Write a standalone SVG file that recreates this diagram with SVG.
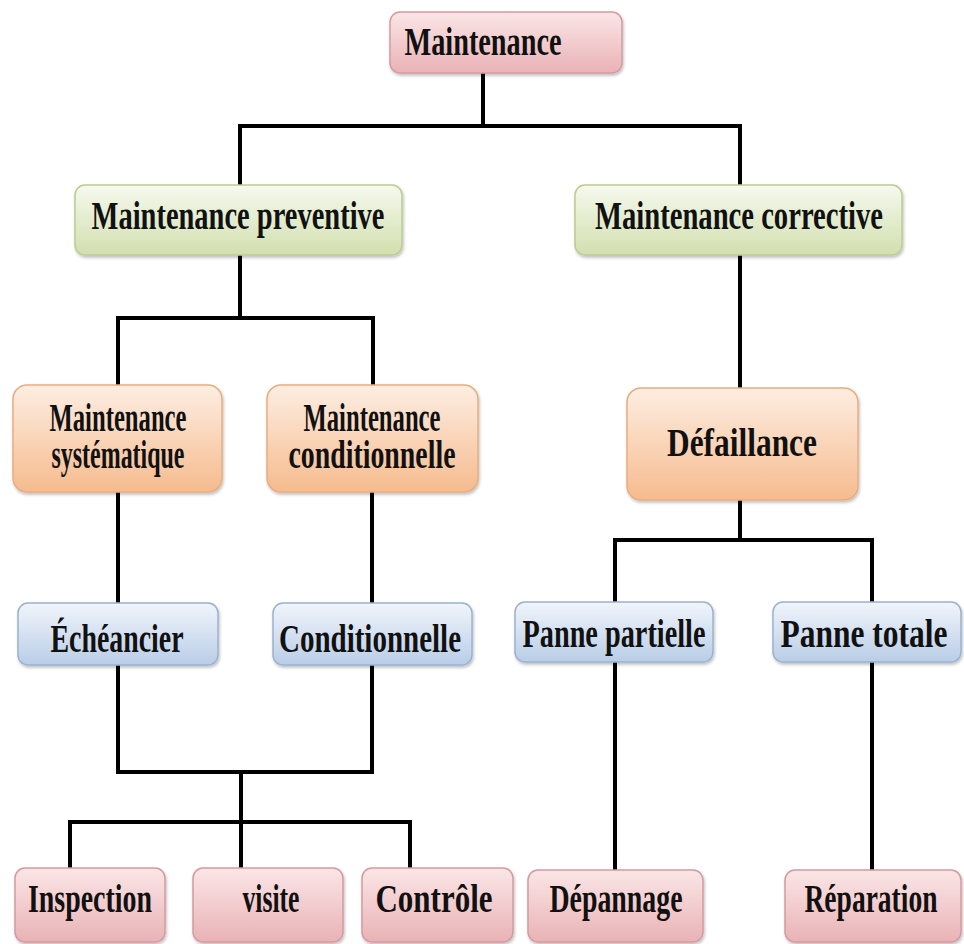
<svg xmlns="http://www.w3.org/2000/svg" width="964" height="944" viewBox="0 0 964 944">
<defs>
<linearGradient id="gPink" x1="0" y1="0" x2="0" y2="1"><stop offset="0" stop-color="#fbe6e6"/><stop offset="1" stop-color="#e9b2b6"/></linearGradient>
<linearGradient id="gGreen" x1="0" y1="0" x2="0" y2="1"><stop offset="0" stop-color="#f6f9ee"/><stop offset="1" stop-color="#d2dfae"/></linearGradient>
<linearGradient id="gOrange" x1="0" y1="0" x2="0" y2="1"><stop offset="0" stop-color="#fdeee2"/><stop offset="1" stop-color="#f6bb8e"/></linearGradient>
<linearGradient id="gBlue" x1="0" y1="0" x2="0" y2="1"><stop offset="0" stop-color="#f1f5fb"/><stop offset="1" stop-color="#b9cde7"/></linearGradient>
<filter id="sh" x="-10%" y="-10%" width="120%" height="130%"><feDropShadow dx="1" dy="2" stdDeviation="1.5" flood-color="#000" flood-opacity="0.25"/></filter>
</defs>
<style>
.box{filter:url(#sh);stroke-width:1.5}
.pink{fill:url(#gPink);stroke:#d49aa0}
.green{fill:url(#gGreen);stroke:#bccb90}
.orange{fill:url(#gOrange);stroke:#e7ad80}
.blue{fill:url(#gBlue);stroke:#9ab2d0}
text{font-family:"Liberation Serif","Times New Roman",serif;font-weight:bold;font-size:40px;fill:#111;text-anchor:middle}
.c{fill:none;stroke:#000;stroke-width:4;stroke-linejoin:miter;stroke-linecap:square}
</style>
<rect width="964" height="944" fill="#fff"/>
<g id="connectors">
<path class="c" d="M483 73 V126 M240 126 H740 M240 126 V185 M740 126 V185"/>
<path class="c" d="M240 255 V318 M118 318 H373 M118 318 V385 M373 318 V385"/>
<path class="c" d="M740 255 V388"/>
<path class="c" d="M740 500 V540 M615 540 H872 M615 540 V602 M872 540 V602"/>
<path class="c" d="M118 492 V603 M372 492 V603"/>
<path class="c" d="M118 665 V772 M372 665 V772 M118 772 H372 M241 772 V822 M70 822 H410 M70 822 V868 M241 822 V868 M410 822 V868"/>
<path class="c" d="M615 662 V870 M872 662 V870"/>
</g>
<g id="n-maintenance"><rect class="box pink" x="390" y="12" width="232" height="61" rx="10"/><text x="483" y="55" textLength="157" lengthAdjust="spacingAndGlyphs">Maintenance</text></g>
<g id="n-preventive"><rect class="box green" x="75" y="185" width="327" height="70" rx="10"/><text x="238" y="229" textLength="293" lengthAdjust="spacingAndGlyphs">Maintenance preventive</text></g>
<g id="n-corrective"><rect class="box green" x="575" y="185" width="327" height="70" rx="10"/><text x="739" y="229" textLength="288" lengthAdjust="spacingAndGlyphs">Maintenance corrective</text></g>
<g id="n-systematique"><rect class="box orange" x="13" y="385" width="209" height="107" rx="14"/><text x="118" y="431" font-size="34" textLength="137" lengthAdjust="spacingAndGlyphs">Maintenance</text><text x="118" y="468" font-size="34" textLength="133" lengthAdjust="spacingAndGlyphs">systématique</text></g>
<g id="n-conditionnelle-m"><rect class="box orange" x="267" y="385" width="211" height="107" rx="14"/><text x="372" y="431" font-size="34" textLength="137" lengthAdjust="spacingAndGlyphs">Maintenance</text><text x="372" y="468" font-size="34" textLength="167" lengthAdjust="spacingAndGlyphs">conditionnelle</text></g>
<g id="n-defaillance"><rect class="box orange" x="627" y="388" width="231" height="112" rx="14"/><text x="742" y="456" font-size="38" textLength="150" lengthAdjust="spacingAndGlyphs">Défaillance</text></g>
<g id="n-echeancier"><rect class="box blue" x="18" y="603" width="200" height="62" rx="10"/><text x="117" y="652" textLength="133" lengthAdjust="spacingAndGlyphs">Échéancier</text></g>
<g id="n-conditionnelle"><rect class="box blue" x="273" y="603" width="199" height="62" rx="10"/><text x="370" y="652" textLength="182" lengthAdjust="spacingAndGlyphs">Conditionnelle</text></g>
<g id="n-partielle"><rect class="box blue" x="515" y="602" width="198" height="60" rx="10"/><text x="614" y="647" textLength="183" lengthAdjust="spacingAndGlyphs">Panne partielle</text></g>
<g id="n-totale"><rect class="box blue" x="773" y="602" width="188" height="60" rx="10"/><text x="864" y="647" textLength="167" lengthAdjust="spacingAndGlyphs">Panne totale</text></g>
<g id="n-inspection"><rect class="box pink" x="15" y="868" width="150" height="74" rx="10"/><text x="90" y="912" textLength="124" lengthAdjust="spacingAndGlyphs">Inspection</text></g>
<g id="n-visite"><rect class="box pink" x="193" y="868" width="150" height="74" rx="10"/><text x="271" y="912" textLength="57" lengthAdjust="spacingAndGlyphs">visite</text></g>
<g id="n-controle"><rect class="box pink" x="362" y="868" width="151" height="74" rx="10"/><text x="434" y="912" textLength="117" lengthAdjust="spacingAndGlyphs">Contrôle</text></g>
<g id="n-depannage"><rect class="box pink" x="528" y="870" width="175" height="72" rx="10"/><text x="616" y="912" textLength="133" lengthAdjust="spacingAndGlyphs">Dépannage</text></g>
<g id="n-reparation"><rect class="box pink" x="785" y="870" width="176" height="72" rx="10"/><text x="871" y="912" textLength="133" lengthAdjust="spacingAndGlyphs">Réparation</text></g>
</svg>
